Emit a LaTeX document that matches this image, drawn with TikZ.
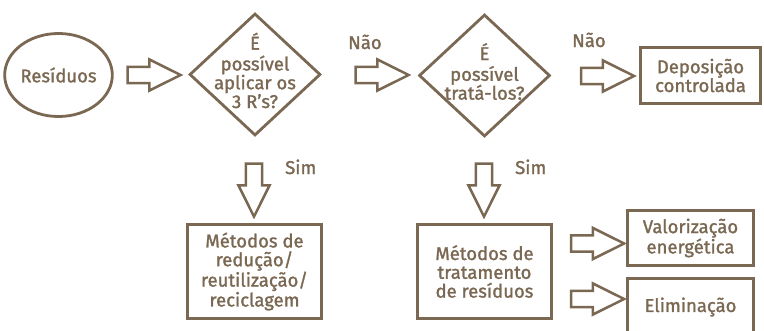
\documentclass[tikz,border=0pt]{standalone}
\usepackage{fontspec}
\setmainfont{Fira Sans}[FakeBold=1.4]
\usetikzlibrary{positioning,shapes.geometric,shapes.arrows}
\definecolor{sand}{RGB}{122,104,82}

\begin{document}
\begin{tikzpicture}[x=1pt,y=1pt,color=sand,font=\fontsize{18.5}{18.8}\selectfont,
        start/.style = {draw, ellipse, line width=2.8pt, minimum width=90pt, minimum height=83pt, inner sep=0pt},
        ask/.style = {draw, diamond, line width=2.8pt, minimum width=131pt, minimum height=122pt, inner sep=0pt},
        box/.style = {draw, rectangle, line width=2.8pt, inner sep=0pt, align=center},
        go/.style = {draw, single arrow, line width=2.5pt, inner sep=6.8pt, minimum height=53pt,
                single arrow head extend=7.5pt, single arrow tip angle=53},
        down/.style = {go, shape border rotate=270},
        lbl/.style = {inner sep=0pt, anchor=base west}]
        \useasboundingbox (0,0) rectangle (764,-330);
        \clip (0,0) rectangle (764,-330);

        % top row
        \node[start](res) at (58.5,-75){Resíduos};
        \node[go](a1) at (146,-75){};
        \node[ask](rs) at (255,-74.5)[label={[align=center, yshift=4pt]center:É\\[2pt]possível\\aplicar os\\3 R’s?}]{};
        \node[go](a2) at (374,-75){};
        \node[lbl](nao1) at (348,-49){Não};
        \node[ask](trat) at (484.5,-75.5)[label={[align=center, yshift=4pt]center:É\\[2pt]possível\\tratá-los?}]{};
        \node[go](a3) at (599.5,-76){};
        \node[lbl](nao2) at (572,-47){Não};
        \node[box](dep) at (700.5,-75.5)[minimum width=120pt, minimum height=56pt]{Deposição\\controlada};

        % sim branches
        \node[down](a4) at (254,-182){};
        \node[lbl](sim1) at (285,-174){Sim};
        \node[box](red) at (254.5,-271.5)[minimum width=134pt, minimum height=94pt]{Métodos de\\redução/\\reutilização/\\reciclagem};

        \node[down](a5) at (484,-182){};
        \node[lbl](sim2) at (515,-174){Sim};
        \node[box](met) at (484.5,-271.5)[minimum width=134pt, minimum height=94pt]{Métodos de\\tratamento\\de resíduos};

        \node[go](a6) at (589.5,-243.5){};
        \node[go](a7) at (589.5,-299){};
        \node[box](val) at (690.5,-238)[minimum width=126pt, minimum height=55pt]{Valorização\\energética};
        \node[box](eli) at (690.5,-307)[minimum width=126pt, minimum height=57pt]{Eliminação};
\end{tikzpicture}
\end{document}
